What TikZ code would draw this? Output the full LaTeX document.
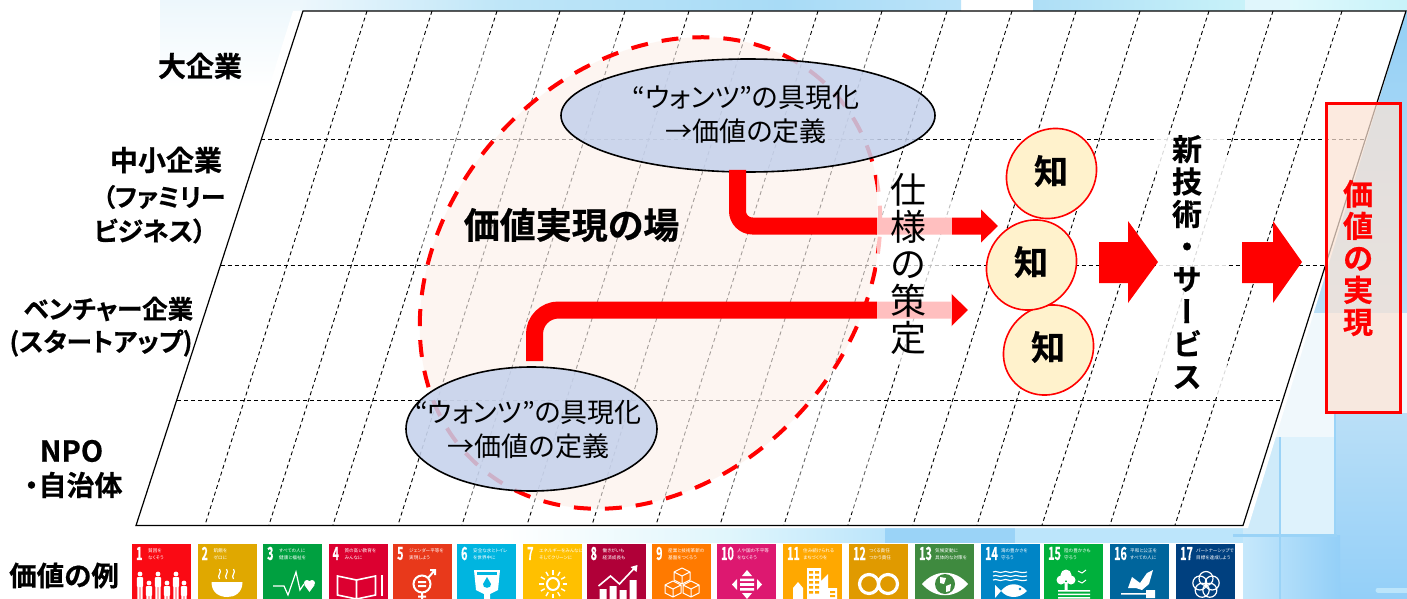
\documentclass[tikz,border=0pt]{standalone}
\usepackage{fontspec}
\usetikzlibrary{shapes.geometric,arrows.meta}
\setmainfont{Noto Sans CJK JP}
\newfontfamily\jp[RawFeature={+palt},BoldFont={* Bold},BoldFeatures={FakeBold=0.6}]{Noto Sans CJK JP}
\newfontfamily\jpv[RawFeature={+vert},BoldFont={* Bold},BoldFeatures={FakeBold=0.6}]{Noto Sans CJK JP}
\definecolor{s1}{HTML}{FA0A14}\definecolor{s2}{HTML}{E0A800}\definecolor{s3}{HTML}{00A040}
\definecolor{s4}{HTML}{DC0030}\definecolor{s5}{HTML}{E8391B}\definecolor{s6}{HTML}{00B5E0}
\definecolor{s7}{HTML}{FFC000}\definecolor{s8}{HTML}{B00038}\definecolor{s9}{HTML}{FF7A00}
\definecolor{s10}{HTML}{DD1870}\definecolor{s11}{HTML}{FFA800}\definecolor{s12}{HTML}{E09A00}
\definecolor{s13}{HTML}{3F8A3F}\definecolor{s14}{HTML}{0085C6}\definecolor{s15}{HTML}{00B03C}
\definecolor{s16}{HTML}{00659C}\definecolor{s17}{HTML}{00407F}
\definecolor{wantfill}{HTML}{C4D1EC}\definecolor{fieldfill}{HTML}{FBE9E0}
\definecolor{chifill}{HTML}{FFF2CC}\definecolor{goalfill}{HTML}{FBE3D4}
\definecolor{bgA}{HTML}{EDF7FC}\definecolor{bgB}{HTML}{BFE6F8}\definecolor{bgC}{HTML}{A8DBF6}
\definecolor{bgD}{HTML}{BAE3F9}\definecolor{bgE}{HTML}{AEDEF6}\definecolor{bgF}{HTML}{C8F2F9}
\definecolor{bgG}{HTML}{DFF9FC}\definecolor{bgH}{HTML}{95D0F5}\definecolor{bgI}{HTML}{BADFF7}
\definecolor{bgJ}{HTML}{C6E8FB}\definecolor{bgK}{HTML}{93CFF8}\definecolor{bgL}{HTML}{DEF2FC}
\definecolor{bgM}{HTML}{9AD3F7}\definecolor{bgN}{HTML}{BCE5FB}\definecolor{bgO}{HTML}{E0F6FC}
\definecolor{bgP}{HTML}{F0F8FC}\definecolor{bgQ}{HTML}{CFEBFA}
\tikzset{
 griddash/.style={black,line width=.9pt,dash pattern=on 4pt off 3pt},
 borderline/.style={black,line width=1.2pt},
 wantsbox/.style={draw=black,line width=1.6pt,ellipse,fill=wantfill,fill opacity=.85,text opacity=1,inner sep=0pt},
 chibox/.style={draw=red,line width=1.6pt,ellipse,fill=chifill,inner sep=0pt,rotate=45,minimum width=94pt,minimum height=86pt},
 lab/.style={inner sep=0pt,font=\jp\bfseries\fontsize{#1}{#1}\selectfont},
 lab/.default=24,
 reg/.style={inner sep=0pt,font=\jp\fontsize{27}{34}\selectfont,align=center},
 flow/.style={red,line width=17pt,-{Triangle[length=17pt,width=32pt]}},
 block/.style={fill=red},
 num/.style={inner sep=0pt,text=white,anchor=west,font=\jp\bfseries\fontsize{18}{18}\selectfont,xscale=.6},
 tiny/.style={inner sep=0pt,text=white,anchor=west,font=\jp\fontsize{4.6}{4.6}\selectfont},
 ic/.style={white,line width=1.2pt},
}
\newcommand\icA{\foreach \px/\ph in {8/28,17/37,26/28,35/37,44/28,52/37}{\fill[white] (\px,\ph) circle[radius=2.4pt];\fill[white,rounded corners=1pt] (\px-3.2,\ph+3) rectangle (\px+3.2,\ph+13);\fill[white] (\px-2.6,\ph+12) rectangle (\px-.4,53) (\px+.4,\ph+12) rectangle (\px+2.6,53);}}
\newcommand\icB{\fill[white] (14,36) -- (45,36) .. controls (45,47) and (37,51) .. (30,51) .. controls (22,51) and (14,47) .. (14,36) -- cycle;
 \foreach \px in {22,29,36}{\draw[ic] (\px,33) .. controls (\px-3,29) and (\px+3,27) .. (\px,23);}}
\newcommand\icC{\draw[ic] (10,40) -- (21,40) -- (25,49) -- (33,26) -- (37,44) -- (41,38);
 \fill[white] (44,37) circle[radius=3pt] (49,37) circle[radius=3pt];\fill[white] (41.4,39) -- (51.6,39) -- (46.5,46) -- cycle;}
\newcommand\icD{\draw[white,line width=1.6pt,fill=\col] (9,30) -- (28,34) -- (28,53) -- (9,49) -- cycle (28,34) -- (47,30) -- (47,49) -- (28,53) -- cycle;
 \fill[white] (52,29) rectangle (54.5,50);}
\newcommand\icE{\draw[white,line width=2pt] (29,38) circle[radius=8.5pt] (29,47) -- (29,53) (25,50.5) -- (33,50.5) (35,32) -- (42,24) (37,24) -- (42,24) -- (42,29);
 \fill[white] (25,35) rectangle (33,37) (25,39) rectangle (33,41);}
\newcommand\icF{\fill[white] (17,24) -- (43,24) -- (41,44) -- (33,48) -- (33,53) -- (27,53) -- (27,48) -- (19,44) -- cycle;
 \fill[\col] (20,26) rectangle (40,29);\fill[\col] (30,31) -- (34,38) .. controls (35,43) and (25,43) .. (26,38) -- cycle;}
\newcommand\icG{\draw[white,line width=2pt] (30,38) circle[radius=6pt];\foreach \ag in {0,30,...,330}{\draw[white,line width=1.4pt] ({30+9.5*cos(\ag)},{38+9.5*sin(\ag)}) -- ({30+14*cos(\ag)},{38+14*sin(\ag)});}}
\newcommand\icH{\fill[white] (13,43) rectangle (20,53) (23,40) rectangle (30,53) (33,44) rectangle (40,53) (43,34) rectangle (50,53);
 \draw[white,line width=1.6pt] (12,40) -- (24,30) -- (33,38) -- (48,22);\fill[white] (44,21) -- (51,19) -- (50,26) -- cycle;}
\newcommand\icI{\foreach \cx/\cy in {30/30,21/43,39/43}{\draw[white,line width=1pt,line join=round] (\cx,\cy-8) -- (\cx+8,\cy-4) -- (\cx+8,\cy+4) -- (\cx,\cy+8) -- (\cx-8,\cy+4) -- (\cx-8,\cy-4) -- cycle (\cx-8,\cy-4) -- (\cx,\cy) -- (\cx+8,\cy-4) (\cx,\cy) -- (\cx,\cy+8);}}
\newcommand\icJ{\fill[white] (30,24) -- (35,30) -- (25,30) -- cycle (30,53) -- (35,47) -- (25,47) -- cycle (15,38.5) -- (20,33) -- (20,44) -- cycle (45,38.5) -- (40,33) -- (40,44) -- cycle (23,32.5) rectangle (37,35) (23,37.2) rectangle (37,39.8) (23,42) rectangle (37,44.5);}
\newcommand\icK{\fill[white] (24,22) rectangle (38,53) (10,42) -- (15,36) -- (20,42) -- (20,53) -- (10,53) -- cycle (38,53) -- (38,35) -- (45,28) -- (45,53) -- cycle (45,42) rectangle (54,53);
 \foreach \wy in {25,30,35,40,45}{\fill[\col] (26,\wy) rectangle (30,\wy+2.5) (32,\wy) rectangle (36,\wy+2.5);}\fill[\col] (47,45) rectangle (52,47) (47,49) rectangle (52,51);}
\newcommand\icL{\draw[white,line width=3.2pt] (20,38) circle[radius=9.5pt] (39,38) circle[radius=9.5pt];}
\newcommand\icM{\fill[white] (7,38) .. controls (20,23) and (40,23) .. (53,38) .. controls (40,53) and (20,53) .. (7,38) -- cycle;
 \fill[\col] (30,38) circle[radius=10pt];\fill[white] (25,31) -- (31,32) -- (29,38) -- (25,37) -- cycle (31,40) -- (36,38) -- (35,45) -- (31,46) -- cycle;}
\newcommand\icN{\foreach \wy in {26,30,34}{\draw[white,line width=1.1pt] (12,\wy) .. controls (16,\wy-2) and (18,\wy+2) .. (22,\wy) .. controls (26,\wy-2) and (28,\wy+2) .. (32,\wy) .. controls (36,\wy-2) and (38,\wy+2) .. (46,\wy);}
 \fill[white] (14,39) -- (20,45) .. controls (27,36) and (38,36) .. (46,45) .. controls (38,53) and (27,53) .. (20,45) -- (14,52) -- cycle;\fill[\col] (39,43) circle[radius=1.4pt];}
\newcommand\icO{\fill[white] (22,29) circle[radius=5.5pt] (17,34) circle[radius=4.5pt] (27,34) circle[radius=4.5pt] (20.5,36) rectangle (23.5,44);
 \draw[white,line width=1pt] (34,25) -- (38,27) -- (42,24) (34,35) -- (38,37) -- (42,34);\fill[white] (14,44) rectangle (46,45.5) (14,47.5) rectangle (46,49) (14,51) rectangle (46,52.5);}
\newcommand\icP{\fill[white] (22,31) -- (30,37) -- (37,27) -- (43,24) -- (39,38) -- (32,44) -- (26,42) -- (18,42) -- cycle;
 \fill[white] (11,47) rectangle (36,48.6) (36,44) rectangle (45,52);}
\newcommand\icQ{\foreach \ag in {90,162,234,306,18}{\draw[white,line width=1.2pt] ({30+6.5*cos(\ag)},{39-6.5*sin(\ag)}) circle[radius=7pt];}}
\begin{document}
\begin{tikzpicture}[x=1pt,y=-1pt]
\useasboundingbox (0,0) rectangle (1407,599);
% ---- background
\fill[white] (0,0) rectangle (1407,599);
\fill[top color=bgA,bottom color=white] (160,0) rectangle (300,88);
\fill[left color=bgA,right color=bgB] (300,0) rectangle (500,12);
\fill[left color=bgB,right color=bgC] (500,0) rectangle (780,12);
\fill[left color=bgC,right color=bgD] (780,0) rectangle (961,12);
\fill[left color=bgE,right color=bgF] (1033,0) rectangle (1245,12);
\fill[bgO] (1245,0) rectangle (1290,12);
\fill[left color=bgG,right color=bgF] (1290,0) rectangle (1407,12);
\fill[top color=bgH,bottom color=bgI] (1300,12) rectangle (1407,313);
\fill[bgP] (1260,313) rectangle (1407,437);
\fill[top color=bgI,bottom color=bgK] (1335,413) rectangle (1407,599);
\fill[bgQ] (1240,437) rectangle (1280,535);
\fill[bgL] (1280,437) rectangle (1335,535);
\fill[left color=bgJ,right color=bgK] (1243,535) rectangle (1340,599);
\draw[bgN,line width=5pt,line cap=round] (1378,590) -- (1407,590);
% bottom strip
\fill[left color=white,right color=bgO] (500,525) rectangle (727,546);
\fill[left color=bgO,right color=bgN] (727,525) rectangle (885,546);
\fill[bgM] (885,525) rectangle (1015,546);
\fill[bgN] (1015,525) rectangle (1243,546);
\draw[bgM,line width=2.5pt] (1335,413) -- (1335,537) (1233,535.5) -- (1337,535.5) (1280,437) -- (1280,599);
\fill[white] (0,543) rectangle (1243,599);
% ---- table sheet
\fill[white] (293,11) -- (1406,11) -- (1248,528) -- (130,528) -- cycle;
\foreach \ta/\tb in {367/205,432/269,497/333,560/398,625/462,689/527,753/592,818/656,882/720,947/784,1012/848,1076/913,1140/977,1209/1042,1273/1110,1342/1175}{
 \draw[griddash] (\ta,11) -- (\tb,525);}
\draw[griddash] (261,139) -- (1365,139) (220.5,265) -- (1325,265) (177,400) -- (1282,400);
\draw[borderline] (136,525.5) -- (303,11) -- (1406,11) -- (1243,525.5) -- cycle;
% ---- value field
\fill[white,opacity=.4] (421,37) rectangle (878,512);
\node[ellipse,draw=red,line width=4pt,dash pattern=on 17pt off 14pt,fill=fieldfill,fill opacity=.42,draw opacity=1,minimum width=516pt,minimum height=410pt,inner sep=0pt,rotate=48] (field) at (650,273) {};
\node[lab=36] (fieldname) at (571.5,225) {価値実現の場};
\node[wantsbox,minimum width=374pt,minimum height=113pt] (w1) at (748,115.5) {};
\node[wantsbox,minimum width=251pt,minimum height=124pt] (w2) at (531.5,429) {};
\node[reg] (w1text) at (746,115) {“ウォンツ”の具現化\\→価値の定義};
\node[reg] (w2text) at (528.5,430) {“ウォンツ”の具現化\\→価値の定義};
% ---- connectors
\coordinate (t1) at (998,226);
\coordinate (t2) at (968,310);
\draw[flow,rounded corners=15pt,shorten <=-3pt] ([xshift=-10.5pt]w1.south) |- (t1);
\draw[flow,rounded corners=24pt,shorten <=5pt] ([xshift=3pt]w2.north) |- (t2);
% ---- veils behind the vertical texts
\fill[white,opacity=.75] (877,170) rectangle (952,363);
\fill[white,opacity=.85] (1157,135) rectangle (1227,397);
\node[inner sep=0pt,font=\jp\fontsize{36}{37}\selectfont,align=center] (spec) at (908,264) {仕\\様\\の\\策\\定};
% ---- knowledge
\node[chibox] (k1) at (1051.5,173.5) {};
\node[chibox] (k3) at (1048.5,350) {};
\node[chibox] (k2) at (1031.5,265) {};
\node[lab=34] (k1t) at (1051,171) {知};
\node[lab=34] (k2t) at (1031,262) {知};
\node[lab=34] (k3t) at (1048,347) {知};
% ---- block arrows
\fill[block] (1099,242) -- (1128,242) -- (1128,221) -- (1158,262) -- (1128,303) -- (1128,283) -- (1099,283) -- cycle;
\fill[block] (1242,242) -- (1273,242) -- (1273,221) -- (1302,262) -- (1273,303) -- (1273,283) -- (1242,283) -- cycle;
\node[inner sep=0pt,font=\jpv\bfseries\fontsize{30}{32.5}\selectfont,align=center] (tech) at (1187,262) {新\\技\\術\\・\\サ\\ー\\ビ\\ス};
% ---- goal
\node[draw=red,line width=3pt,fill=goalfill,fill opacity=.72,draw opacity=1,minimum width=74pt,minimum height=309pt,inner sep=0pt] (goal) at (1363.5,258) {};
\node[inner sep=0pt,text=red,font=\jp\bfseries\fontsize{30}{32}\selectfont,align=center] (goaltext) at (1358,258) {価\\値\\の\\実\\現};
% ---- row labels
\node[lab=28] (l1) at (200,66) {大企業};
\node[lab=28] (l2a) at (166,160) {中小企業};
\node[lab=25] (l2b) at (164,197) {（ファミリー};
\node[lab=26] (l2c) at (150,231) {ビジネス）};
\node[lab=25.5] (l3a) at (108.5,309) {ベンチャー企業};
\node[lab=25.7] (l3b) at (101,343) {(スタートアップ)};
\node[lab=29] (l4a) at (71.5,451) {NPO};
\node[lab=28] (l4b) at (73.5,485) {・自治体};
\node[lab=27.5] (l5) at (64,575.5) {価値の例};
% ---- SDG tiles
\foreach \tx/\num/\la/\lb/\ic in {
 132/1/貧困を/なくそう/\icA, 197.5/2/飢餓を/ゼロに/\icB, 263/3/すべての人に/健康と福祉を/\icC,
 328.5/4/質の高い教育を/みんなに/\icD, 393/5/ジェンダー平等を/実現しよう/\icE, 457/6/安全な水とトイレ/を世界中に/\icF,
 523/7/エネルギーをみんなに/そしてクリーンに/\icG, 586.5/8/働きがいも/経済成長も/\icH, 652/9/産業と技術革新の/基盤をつくろう/\icI,
 717/10/人や国の不平等/をなくそう/\icJ, 783/11/住み続けられる/まちづくりを/\icK, 849/12/つくる責任/つかう責任/\icL,
 915/13/気候変動に/具体的な対策を/\icM, 981/14/海の豊かさを/守ろう/\icN, 1044/15/陸の豊かさも/守ろう/\icO,
 1110/16/平和と公正を/すべての人に/\icP, 1176/17/パートナーシップで/目標を達成しよう/\icQ}{
 \begin{scope}[shift={(\tx,546)}]
 \def\col{s\num}
 \fill[\col] (0,-2) rectangle (59,53);
 \node[num] (no\num) at (4,7.5) {\num};
 \ifnum\num<10 \def\tox{16}\else \def\tox{20}\fi
 \node[tiny] (ta\num) at (\tox,4.5) {\la};
 \node[tiny] (tb\num) at (\tox,11.5) {\lb};
 \ic
 \end{scope}
}
\end{tikzpicture}
\end{document}
